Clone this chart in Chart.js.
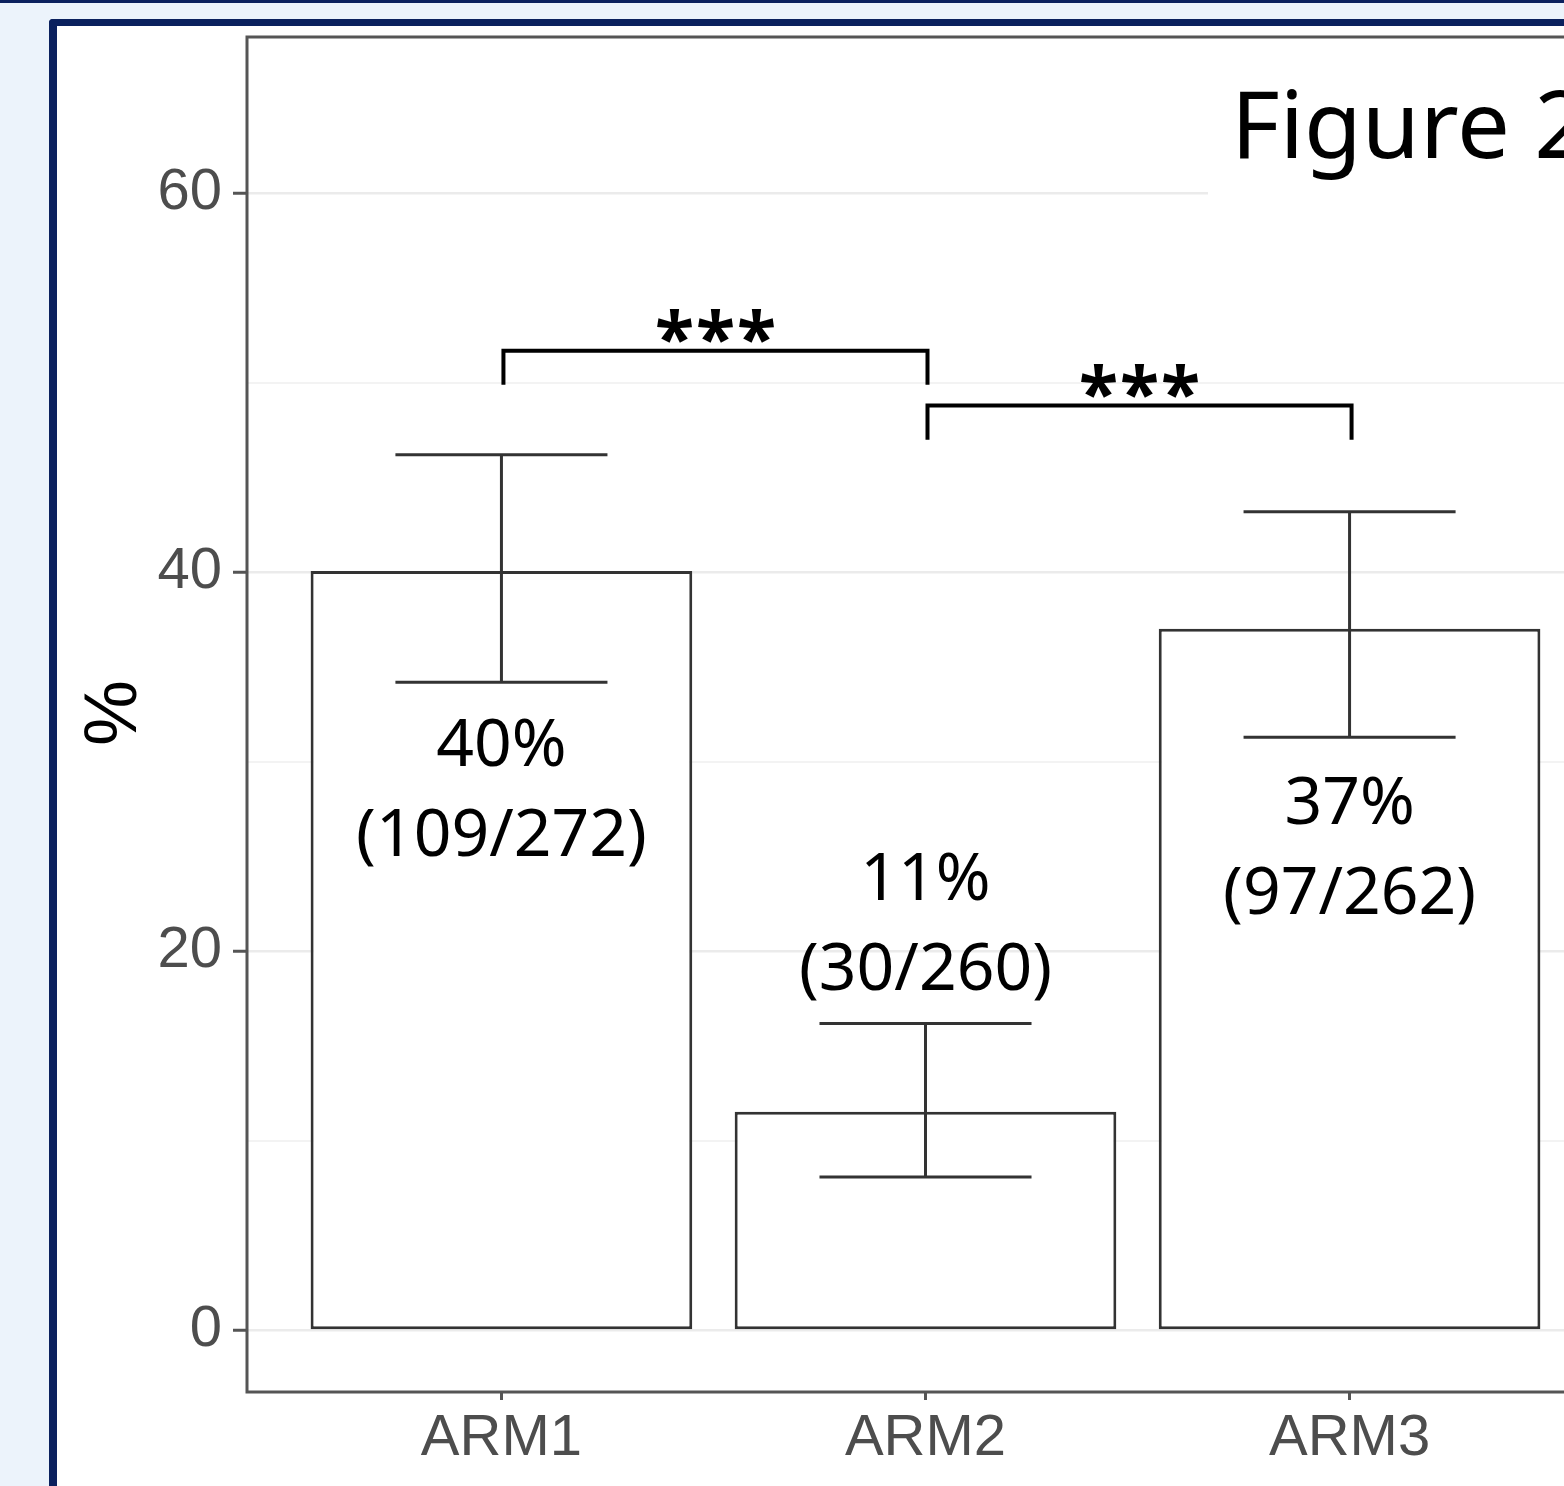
<!DOCTYPE html>
<html>
<head>
<meta charset="utf-8">
<script src="https://cdn.jsdelivr.net/npm/chart.js@4/dist/chart.umd.min.js"></script>
<style>
  html, body { margin: 0; padding: 0; width: 1564px; height: 1486px; overflow: hidden; background: #ecf3fb; }
  #topline { position: absolute; left: 0; top: 0; width: 1564px; height: 3px; background: #0b215e; }
  #frame { position: absolute; left: 49px; top: 19px; width: 1600px; height: 1600px;
           border-left: 8px solid #0b215e; border-top: 7px solid #0b215e;
           border-top-left-radius: 4px; background: #fff; }
  #c { position: absolute; left: 0; top: 0; }
</style>
</head>
<body>
<div id="topline"></div>
<div id="frame"></div>
<canvas id="c" width="1620" height="1486"></canvas>
<script>
'use strict';

// Datos
const ARMS     = ['ARM1', 'ARM2', 'ARM3'];
const PCT      = [40.07, 11.54, 37.02];
const LOWER    = [34.2, 8.1, 31.3];
const UPPER    = [46.2, 16.2, 43.2];
const N_EVENT  = [109, 30, 97];
const N_TOTAL  = [272, 260, 262];
const Y_TICKS  = [0, 10, 20, 30, 40, 50, 60];   // los impares son líneas menores

// Comparaciones (índices de brazo, altura del corchete, etiqueta)
const SIG_FROM  = [0, 1];
const SIG_TO    = [1, 2];
const SIG_Y     = [51.7, 48.8];
const SIG_LABEL = ['***', '***'];

const INK   = '#333333';
const AXIS  = '#555555';
const TICKS = '#4d4d4d';

Chart.defaults.font.family = "'Liberation Sans', Arial, sans-serif";

// texto centrado verticalmente sobre su caja real
function fillCentered(ctx, text, x, cy, ref) {
  const m = ctx.measureText(ref || text);
  ctx.textBaseline = 'alphabetic';
  ctx.fillText(text, x, cy + (m.actualBoundingBoxAscent - m.actualBoundingBoxDescent) / 2);
}

const extras = {
  id: 'extras',
  afterDatasetsDraw(chart) {
    const { ctx, chartArea: a, scales: { x, y } } = chart;
    ctx.save();

    // barras de error
    ctx.strokeStyle = INK;
    ctx.lineWidth = 3;
    ARMS.forEach((_, i) => {
      const cx = x.getPixelForValue(i + 1);
      const hw = x.getPixelForValue(1.25) - x.getPixelForValue(1);
      const yl = y.getPixelForValue(LOWER[i]);
      const yu = y.getPixelForValue(UPPER[i]);
      ctx.beginPath();
      ctx.moveTo(cx, yl); ctx.lineTo(cx, yu);
      ctx.moveTo(cx - hw, yl); ctx.lineTo(cx + hw, yl);
      ctx.moveTo(cx - hw, yu); ctx.lineTo(cx + hw, yu);
      ctx.stroke();
    });

    // etiquetas dentro / encima de las barras
    ctx.fillStyle = '#000';
    ctx.textAlign = 'center';
    ctx.font = "66px 'Noto Sans', sans-serif";
    ARMS.forEach((_, i) => {
      const cx = x.getPixelForValue(i + 1);
      const at = PCT[i] > 20 ? PCT[i] - 9.07 : UPPER[i] + 7.75;
      const cy = y.getPixelForValue(at);
      fillCentered(ctx, Math.floor(PCT[i]) + '%', cx, cy, '0');
      fillCentered(ctx, '(' + N_EVENT[i] + '/' + N_TOTAL[i] + ')', cx, cy + 90, '0');
    });

    // corchetes de significación
    ctx.strokeStyle = '#000';
    ctx.lineWidth = 4;
    ctx.lineJoin = 'miter';
    ctx.font = "bold 72px 'Noto Sans', sans-serif";
    ctx.letterSpacing = '2px';
    SIG_Y.forEach((v, k) => {
      const x1 = x.getPixelForValue(SIG_FROM[k] + 1) + 2;
      const x2 = x.getPixelForValue(SIG_TO[k] + 1) + 2;
      const yb = y.getPixelForValue(v);
      const yt = y.getPixelForValue(v - 1.8);
      ctx.beginPath();
      ctx.moveTo(x1, yt); ctx.lineTo(x1, yb); ctx.lineTo(x2, yb); ctx.lineTo(x2, yt);
      ctx.stroke();
      fillCentered(ctx, SIG_LABEL[k], (x1 + x2) / 2 + 1, yb - 24.5);
    });
    ctx.letterSpacing = '0px';

    // caja blanca del título
    ctx.fillStyle = '#fff';
    ctx.fillRect(1208, a.top + 2, 400, 197 - a.top - 2);
    ctx.fillStyle = '#000';
    ctx.textAlign = 'left';
    ctx.textBaseline = 'alphabetic';
    ctx.font = "94px 'Noto Sans', sans-serif";
    ctx.fillText('Figure 2', 1231, 158);

    // borde del panel
    ctx.strokeStyle = AXIS;
    ctx.lineWidth = 3;
    ctx.strokeRect(a.left, a.top, a.right - a.left, a.bottom - a.top);

    // título eje Y
    ctx.translate(110, 713);
    ctx.rotate(-Math.PI / 2);
    ctx.textAlign = 'center';
    ctx.font = "74px 'Liberation Sans', Arial, sans-serif";
    fillCentered(ctx, '%', 0, 0);
    ctx.restore();
  },
};

new Chart(document.getElementById('c'), {
  type: 'bar',
  data: {
    datasets: [{
      data: PCT.map((v, i) => ({ x: i + 1, y: v })),
      backgroundColor: '#ffffff',
      borderColor: INK,
      borderWidth: 3,
      borderSkipped: false,
      barPercentage: 1,
      categoryPercentage: 0.9,
    }],
  },
  options: {
    responsive: false,
    animation: false,
    layout: { padding: { top: 37, right: 16, left: 0, bottom: 0 } },
    plugins: { legend: { display: false }, tooltip: { enabled: false } },
    scales: {
      x: {
        type: 'linear', min: 0.4, max: 3.6, offset: false,
        afterBuildTicks: s => { s.ticks = ARMS.map((_, i) => ({ value: i + 1 })); },
        afterFit: s => { s.height = 94; s.paddingLeft = 0; s.paddingRight = 0; },
        border: { display: false },
        grid: { offset: false, drawOnChartArea: false, tickLength: 8, tickColor: AXIS, tickWidth: 3 },
        ticks: {
          callback: v => ARMS[v - 1], color: TICKS, padding: 4,
          font: { size: 58 }, maxRotation: 0, autoSkip: false,
        },
      },
      y: {
        min: -3.25, max: 68.25,
        afterBuildTicks: s => { s.ticks = Y_TICKS.map(v => ({ value: v })); },
        afterFit: s => { s.width = 247; s.paddingTop = 0; s.paddingBottom = 0; },
        border: { display: false },
        grid: {
          color: c => (c.tick && c.tick.value % 20 === 0) ? '#ebebeb' : '#f3f3f3',
          lineWidth: c => (c.tick && c.tick.value % 20 === 0) ? 2.5 : 2,
          tickLength: 14,
          tickColor: c => (c.tick && c.tick.value % 20 === 0) ? AXIS : 'rgba(0,0,0,0)',
          tickWidth: 3,
        },
        ticks: {
          callback: v => (v % 20 === 0 ? String(v) : ''), color: TICKS, padding: 11,
          font: { size: 58 }, autoSkip: false,
        },
      },
    },
  },
  plugins: [extras],
});
</script>
</body>
</html>
